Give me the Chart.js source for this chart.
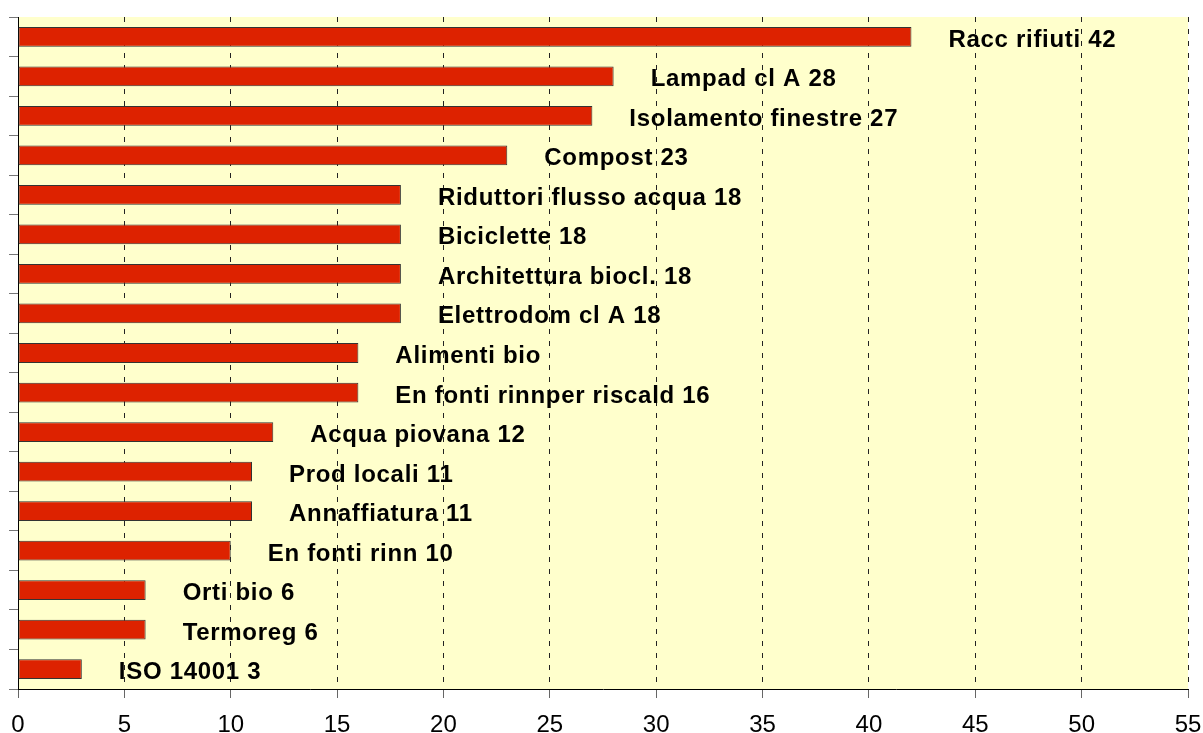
<!DOCTYPE html>
<html>
<head>
<meta charset="utf-8">
<script src="https://cdn.jsdelivr.net/npm/chart.js@4/dist/chart.umd.min.js"></script>
<style>
  body { margin: 0; background: #fff; }
  canvas { display: block; }
</style>
</head>
<body>
<canvas id="myChart" width="1203" height="733"></canvas>
<script>
// data, top bar first
const categories = ["Racc rifiuti", "Lampad cl A", "Isolamento finestre", "Compost", "Riduttori flusso acqua",
  "Biciclette", "Architettura biocl.", "Elettrodom cl A", "Alimenti bio", "En fonti rinnper riscald",
  "Acqua piovana", "Prod locali", "Annaffiatura", "En fonti rinn", "Orti bio", "Termoreg", "ISO 14001"];
const values = [42, 28, 27, 23, 18, 18, 18, 18, 16, 16, 12, 11, 11, 10, 6, 6, 3];
const barLabels = ["Racc rifiuti 42", "Lampad cl A 28", "Isolamento finestre 27", "Compost 23",
  "Riduttori flusso acqua 18", "Biciclette 18", "Architettura biocl. 18", "Elettrodom cl A 18",
  "Alimenti bio", "En fonti rinnper riscald 16", "Acqua piovana 12", "Prod locali 11",
  "Annaffiatura 11", "En fonti rinn 10", "Orti bio 6", "Termoreg 6", "ISO 14001 3"];
const xTicks = [0, 5, 10, 15, 20, 25, 30, 35, 40, 45, 50, 55];

const plotBg = {
	id: 'plotBg',
	beforeDraw(chart) {
		const a = chart.chartArea;
		const ctx = chart.ctx;
		ctx.save();
		ctx.fillStyle = '#FFFFCC';
		ctx.fillRect(a.left, a.top, a.right - a.left, a.bottom - a.top);
		ctx.restore();
	}
};

const barText = {
	id: 'barText',
	afterDatasetsDraw(chart) {
		const ctx = chart.ctx;
		const meta = chart.getDatasetMeta(0);
		ctx.save();
		ctx.font = 'bold 24px Arial, "Liberation Sans", sans-serif';
		ctx.letterSpacing = '0.7px';
		ctx.fillStyle = '#000';
		ctx.textBaseline = 'alphabetic';
		meta.data.forEach((bar, i) => {
			ctx.fillText(barLabels[i], bar.x + 37, bar.y + 10);
		});
		ctx.restore();
	}
};

new Chart(document.getElementById('myChart'), {
	type: 'bar',
	data: {
		labels: categories,
		datasets: [{
			data: values,
			backgroundColor: '#DD2200',
			borderColor: '#333333',
			borderWidth: 1,
			borderSkipped: false,
			barPercentage: 0.5,
			categoryPercentage: 1
		}]
	},
	options: {
		indexAxis: 'y',
		responsive: false,
		animation: false,
		layout: { padding: { top: 17, right: 15, bottom: 0, left: 0 } },
		plugins: { legend: { display: false }, tooltip: { enabled: false } },
		scales: {
			x: {
				min: 0,
				max: 55,
				afterBuildTicks: s => { s.ticks = xTicks.map(v => ({ value: v })); },
				afterFit: s => {
					s.height = 44;
					s.paddingLeft = 0;
					s.paddingRight = 0;
				},
				ticks: {
					color: '#000',
					padding: 13,
					font: { family: 'Arial, "Liberation Sans", sans-serif', size: 24 }
				},
				grid: {
					color: '#222',
					lineWidth: 1,
					tickLength: 9,
					tickColor: '#666',
					tickBorderDash: [1, 0]
				},
				border: { color: '#000', width: 1, dash: [5, 7] }
			},
			y: {
				afterFit: s => { s.width = 18; },
				ticks: { display: false },
				grid: {
					offset: true,
					drawOnChartArea: false,
					tickLength: 9,
					tickColor: '#777'
				},
				border: { color: '#000', width: 1 }
			}
		}
	},
	plugins: [plotBg, barText]
});
</script>
</body>
</html>
